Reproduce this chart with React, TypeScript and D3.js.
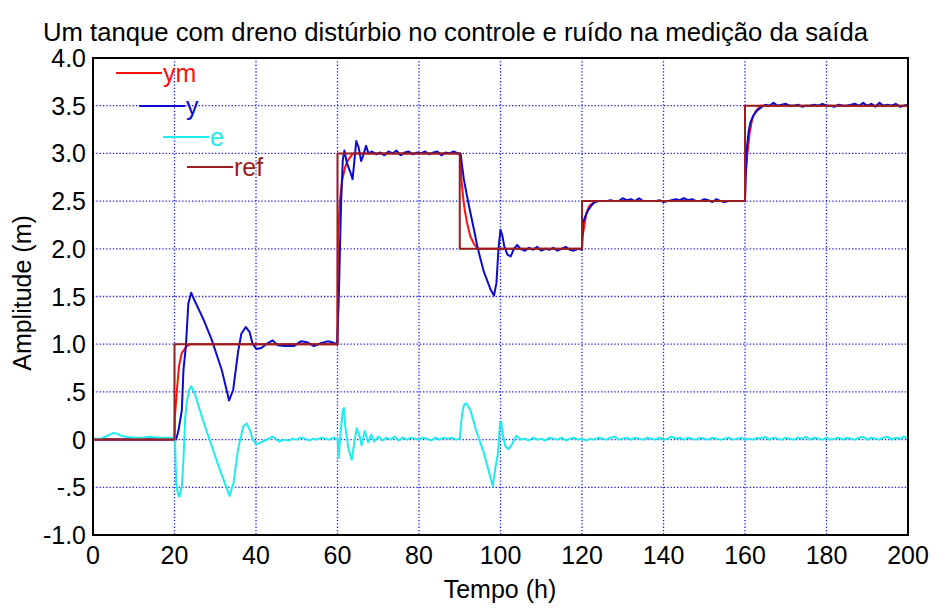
import React from 'react';
import * as d3 from 'd3';

const W = 947;
const H = 614;

const titleText = 'Um tanque com dreno distúrbio no controle e ruído na medição da saída';
const xLabel = 'Tempo (h)';
const yLabel = 'Amplitude (m)';

const xTicks = [0, 20, 40, 60, 80, 100, 120, 140, 160, 180, 200];
const xTickLabels = ['0', '20', '40', '60', '80', '100', '120', '140', '160', '180', '200'];
const yTicks = [-1, -0.5, 0, 0.5, 1, 1.5, 2, 2.5, 3, 3.5, 4];
const yTickLabels = ['-1.0', '-.5', '0', '.5', '1.0', '1.5', '2.0', '2.5', '3.0', '3.5', '4.0'];

const seriesNames = ['ym', 'y', 'e', 'ref'];
const seriesColors = ['#ff1010', '#0a0ad0', '#20ecec', '#9a1e1e'];

// reference (step)
const refData: [number, number][] = [
  [0, 0], [20, 1], [60, 3], [90, 2], [120, 2.5], [160, 3.5], [200, 3.5],
];

// model output ym
const ymData: [number, number][] = [
  [0, 0], [20, 0], [20.1, 0.24], [20.6, 0.52], [21.1, 0.77], [21.8, 0.91], [23, 0.98], [24, 1.0],
  [60, 1.0], [60.1, 2.13], [60.6, 2.5], [61.1, 2.71], [61.9, 2.86], [62.6, 2.93], [63.8, 3.0],
  [90, 3.0], [90.4, 2.73], [90.8, 2.55], [91.2, 2.41], [91.8, 2.27], [92.6, 2.13], [93.5, 2.05], [94.5, 2.0],
  [120, 2.0], [120.1, 2.12], [120.6, 2.25], [121.1, 2.38], [121.8, 2.45], [123, 2.49], [124, 2.5],
  [160, 2.5], [160.1, 2.73], [160.6, 3.0], [161.1, 3.2], [161.8, 3.37], [162.6, 3.44], [163.8, 3.5], [200, 3.5],
];

// measured output y
const yData: [number, number][] = [
  [0, 0], [20.4, 0], [21, 0.1], [21.8, 0.31], [22.2, 0.73], [22.8, 0.98], [23.4, 1.43], [24.1, 1.54],
  [25, 1.45], [27, 1.27], [29.1, 1.05], [31.6, 0.73], [33.4, 0.41], [34.4, 0.52], [35.6, 0.92],
  [36.4, 1.11], [37.5, 1.18], [38.4, 1.13], [39.2, 1.0], [40.1, 0.95], [41.3, 0.96], [42.5, 1.0],
  [44.1, 1.04], [45.3, 0.99], [47, 0.98], [49.3, 0.98], [51, 1.03], [52.6, 1.02], [54.2, 0.98],
  [55.9, 1.01], [57.5, 1.03], [58.7, 1.02], [59.9, 1.0],
  [60.3, 1.45], [60.6, 2.0], [60.9, 2.5], [61.3, 2.93], [61.7, 3.03], [62.3, 2.9], [63.1, 2.81],
  [63.7, 2.73], [64.1, 2.9], [64.6, 3.13], [65.2, 3.06], [65.8, 2.92], [66.4, 2.99], [67, 3.08],
  [67.6, 3.0], [68.5, 3.02], [69.5, 2.99], [70.5, 3.01], [71.5, 2.98], [72.5, 3.02], [73.5, 3.0],
  [74.5, 3.03], [75.5, 2.98], [76.5, 3.01], [77.5, 3.02], [78.5, 2.99], [79.5, 3.01], [80.5, 3.0],
  [81.5, 3.02], [82.5, 2.99], [83.5, 3.01], [84.5, 3.02], [85.5, 2.98], [86.5, 3.01], [87.5, 3.0],
  [88.5, 3.02], [89.5, 3.0], [90.2, 3.0],
  [90.6, 2.86], [91, 2.73], [91.8, 2.55], [92.6, 2.38], [93.5, 2.2], [94.3, 2.03], [95.1, 1.89],
  [95.9, 1.76], [96.8, 1.66], [97.6, 1.57], [98.4, 1.51], [99, 1.64], [99.5, 2.0], [100, 2.2],
  [100.5, 2.13], [100.9, 2.03], [101.7, 1.94], [102.5, 1.92], [103.3, 2.0], [104.1, 2.04], [104.9, 2.0],
  [106, 1.98], [107, 2.01], [108, 1.99], [109, 2.02], [110, 1.98], [111, 2.0], [112, 1.99], [113, 2.01],
  [114, 1.98], [115, 2.0], [116, 2.02], [117, 1.99], [118, 1.98], [119, 2.0], [120, 1.99],
  [120.2, 2.27], [120.8, 2.34], [121.6, 2.41], [122.4, 2.46], [123.2, 2.49], [124, 2.5],
  [125, 2.5], [126, 2.5], [127, 2.51], [128, 2.5], [129, 2.5], [130, 2.53], [131, 2.51], [132, 2.52],
  [133, 2.5], [134, 2.53], [135, 2.5], [136, 2.5], [137, 2.5], [138, 2.5], [139, 2.51], [140, 2.49],
  [141, 2.5], [142, 2.51], [143, 2.52], [144, 2.51], [145, 2.53], [146, 2.51], [147, 2.52], [148, 2.5],
  [149, 2.5], [150, 2.52], [151, 2.51], [152, 2.49], [153, 2.52], [154, 2.5], [155, 2.49], [156, 2.5],
  [157, 2.5], [158, 2.5], [159, 2.5], [160, 2.5],
  [160.2, 2.83], [160.5, 3.07], [160.9, 3.23], [161.3, 3.32], [162.1, 3.4], [163, 3.45], [164.2, 3.49],
  [165, 3.51], [166, 3.5], [167, 3.53], [168, 3.5], [169, 3.51], [170, 3.52], [171, 3.5], [172, 3.5],
  [173, 3.51], [174, 3.49], [175, 3.5], [176, 3.5], [177, 3.51], [178, 3.5], [179, 3.52], [180, 3.5],
  [181, 3.5], [182, 3.49], [183, 3.51], [184, 3.5], [185, 3.5], [186, 3.51], [187, 3.52], [188, 3.5],
  [189, 3.53], [190, 3.5], [191, 3.52], [192, 3.49], [193, 3.53], [194, 3.5], [195, 3.51], [196, 3.5],
  [197, 3.52], [198, 3.49], [199, 3.5], [200, 3.51],
];

// error e
const eData: [number, number][] = [
  [0, 0.01], [2, 0.01], [3, 0.03], [4, 0.05], [5, 0.07], [6, 0.06], [7, 0.04], [8, 0.03], [10, 0.02],
  [12, 0.02], [14, 0.03], [16, 0.02], [18, 0.02], [20, 0.02],
  [20.2, -0.1], [20.4, -0.45], [20.8, -0.56], [21.2, -0.6], [21.8, -0.49], [22.2, -0.21], [22.6, 0.21],
  [23, 0.39], [23.6, 0.52], [24.1, 0.56], [25, 0.48], [27, 0.2], [29, -0.05], [31, -0.3], [33.5, -0.59],
  [34.5, -0.45], [35.6, -0.1], [36.9, 0.14], [37.7, 0.17], [38.5, 0.1], [39.2, 0], [40.1, -0.05],
  [41.7, -0.02], [44.1, 0.03], [45.7, -0.02], [47, 0.0], [48, -0.01], [49, 0.01], [50, 0], [51, 0.02],
  [52, 0.01], [53, -0.01], [54, 0.01], [55, 0.0], [56, 0.02], [57, 0.01], [58, 0.0], [59, 0.02], [60, 0.01],
  [60.3, -0.19], [60.6, 0.0], [61.3, 0.31], [61.6, 0.33], [61.9, 0.14], [62.7, -0.1], [63.5, -0.21],
  [64.1, -0.04], [64.7, 0.12], [65.4, 0.04], [65.9, -0.06], [66.7, 0.09], [67.5, -0.03], [68.3, 0.05],
  [69, -0.02], [70, 0.03], [71, -0.01], [72, 0.02], [73, 0.0], [74, 0.03], [75, -0.01], [76, 0.02],
  [77, 0], [78, 0.02], [79, 0.01], [80, 0.0], [81, 0.02], [82, 0.01], [83, -0.01], [84, 0.02], [85, 0.0],
  [86, 0.02], [87, 0.01], [88, 0.02], [89, 0.0], [90, 0.01],
  [90.6, 0.28], [91.1, 0.37], [91.6, 0.38], [92.6, 0.31], [94, 0.1], [96, -0.15], [98.1, -0.49],
  [98.8, -0.28], [99.4, -0.14], [99.9, 0.19], [100.2, 0.18], [100.6, 0.04], [101.2, -0.07], [102, -0.1],
  [102.8, -0.05], [103.9, 0.04], [104.9, 0],
  [106, 0.01], [107, -0.01], [108, 0.02], [109, 0.0], [110, 0.01], [111, -0.01], [112, 0.02], [113, 0.01],
  [114, 0.0], [115, 0.02], [116, -0.01], [117, 0.01], [118, 0.02], [119, 0.0], [120, 0.01],
  [121, -0.01], [122, 0.01], [123, 0.0], [124, 0.02], [125, 0.01], [126, 0.0], [127, 0.02], [128, 0.03],
  [129, 0.0], [130, 0.01], [131, 0.02], [132, 0.0], [133, 0.02], [134, 0.01], [135, 0.0], [136, 0.02],
  [137, 0.01], [138, 0.0], [139, 0.02], [140, 0.0], [141, 0.01], [142, 0.03], [143, 0.01], [144, 0.02],
  [145, 0.0], [146, 0.02], [147, 0.01], [148, 0.0], [149, 0.02], [150, 0.01], [151, 0.0], [152, 0.02],
  [153, 0.01], [154, 0.0], [155, 0.01], [156, 0.02], [157, 0.0], [158, 0.01], [159, 0.02], [160, 0.0],
  [161, 0.01], [162, 0.0], [163, 0.02], [164, 0.01], [165, 0.03], [166, 0.0], [167, 0.02], [168, 0.01],
  [169, 0.0], [170, 0.02], [171, 0.01], [172, 0.0], [173, 0.02], [174, 0.01], [175, 0.03], [176, 0.0],
  [177, 0.02], [178, 0.01], [179, 0.0], [180, 0.02], [181, 0.0], [182, 0.01], [183, 0.02], [184, 0.0],
  [185, 0.02], [186, 0.01], [187, 0.0], [188, 0.02], [189, 0.03], [190, 0.0], [191, 0.02], [192, 0.01],
  [193, 0.0], [194, 0.02], [195, 0.03], [196, 0.0], [197, 0.02], [198, 0.01], [199, 0.03], [200, 0.01],
];

const FONT = 'Arial, "Liberation Sans", sans-serif';

export default function App() {
  const left = 93;
  const right = 908;
  const top = 58;
  const bottom = 535;

  const x = d3.scaleLinear().domain([0, 200]).range([left, right]);
  const y = d3.scaleLinear().domain([-1, 4]).range([bottom, top]);

  const line = d3
    .line<[number, number]>()
    .x((d) => x(d[0]))
    .y((d) => y(d[1]));
  const stepLine = d3
    .line<[number, number]>()
    .x((d) => x(d[0]))
    .y((d) => y(d[1]))
    .curve(d3.curveStepAfter);

  const seriesList = [
    { data: ymData, gen: line },
    { data: yData, gen: line },
    { data: eData, gen: line },
    { data: refData, gen: stepLine },
  ];

  const legendX = [116, 139, 163, 187];
  const legendY = [73, 106, 137, 167];

  return (
    <svg
      width={W}
      height={H}
      style={{ position: 'absolute', left: 0, top: 0, background: '#fff' }}
      fontFamily={FONT}
    >
      <rect x={0} y={0} width={W} height={H} fill="#fff" />
      <text x={43} y={41} fontSize={25.5} fill="#000" textLength={825} lengthAdjust="spacingAndGlyphs">
        {titleText}
      </text>

      <defs>
        <clipPath id="plotClip">
          <rect x={left} y={top} width={right - left} height={bottom - top} />
        </clipPath>
      </defs>

      {/* grid */}
      {xTicks.slice(1, -1).map((t) => (
        <line
          key={'gx' + t}
          x1={x(t)}
          x2={x(t)}
          y1={top}
          y2={bottom}
          stroke="#1a1aff"
          strokeWidth={1.3}
          strokeDasharray="1.3,2"
        />
      ))}
      {yTicks.slice(1, -1).map((t) => (
        <line
          key={'gy' + t}
          x1={left}
          x2={right}
          y1={y(t)}
          y2={y(t)}
          stroke="#1a1aff"
          strokeWidth={1.3}
          strokeDasharray="1.3,2"
        />
      ))}

      {/* legend */}
      {seriesNames.map((n, i) => (
        <g key={'lg' + n}>
          <line
            x1={legendX[i]}
            x2={legendX[i] + 46}
            y1={legendY[i]}
            y2={legendY[i]}
            stroke={seriesColors[i]}
            strokeWidth={2}
          />
          <text x={legendX[i] + 47} y={legendY[i] + 9} fontSize={25} fill={seriesColors[i]}>
            {n}
          </text>
        </g>
      ))}

      {/* series */}
      <g clipPath="url(#plotClip)">
        {seriesList.map((s, i) => (
          <path
            key={'s' + i}
            d={s.gen(s.data) || ''}
            fill="none"
            stroke={seriesColors[i]}
            strokeWidth={2}
            strokeLinejoin="round"
          />
        ))}
      </g>

      {/* frame */}
      <rect x={left} y={top} width={right - left} height={bottom - top} fill="none" stroke="#000" strokeWidth={2} />

      {/* ticks */}
      {xTicks.map((t, i) => (
        <text key={'xt' + t} x={x(t)} y={564} fontSize={25} textAnchor="middle" fill="#000">
          {xTickLabels[i]}
        </text>
      ))}
      {yTicks.map((t, i) => (
        <text
          key={'yt' + t}
          x={86}
          y={y(t)}
          dy="0.36em"
          fontSize={25}
          textAnchor="end"
          fill="#000"
        >
          {yTickLabels[i]}
        </text>
      ))}

      <text x={500} y={598} fontSize={25} textAnchor="middle" fill="#000">
        {xLabel}
      </text>
      <text
        transform={`translate(31, 293) rotate(-90)`}
        fontSize={25}
        textAnchor="middle"
        fill="#000"
      >
        {yLabel}
      </text>
    </svg>
  );
}
